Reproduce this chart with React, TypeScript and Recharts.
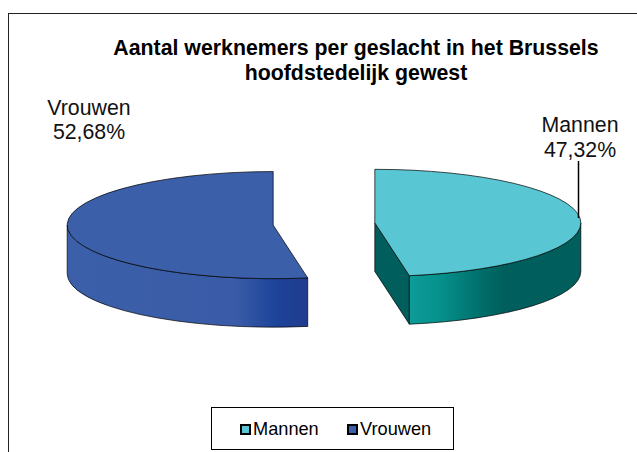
import React from "react";
import { PieChart, Pie, Cell, Legend } from "recharts";

const categories = ["Mannen", "Vrouwen"];
const values = [47.32, 52.68];
const topColors = ["#58c7d3", "#3c5fa9"];
const titleLines = ["Aantal werknemers per geslacht in het Brussels", "hoofdstedelijk gewest"];

const data = categories.map((name, i) => ({ name, value: values[i] }));

const FONT = '"Liberation Sans", Arial, sans-serif';
const SQUASH = 0.26;
const DEPTH = 48.5;
const EXPLODE = 51;
const RAD = Math.PI / 180;

// Point on the squashed circle; recharts angles are counter-clockwise from 3 o'clock.
const pt = (cx: number, cy: number, r: number, a: number) => ({
  x: cx + r * Math.cos(a * RAD),
  y: cy - r * SQUASH * Math.sin(a * RAD),
});

function Slice3D(props: any) {
  const { cx, cy, outerRadius: r, startAngle, endAngle, fill, index } = props;
  const mid = (startAngle + endAngle) / 2;
  const ox = cx + EXPLODE * Math.cos(mid * RAD);
  const oy = cy - EXPLODE * SQUASH * Math.sin(mid * RAD);
  const a = pt(ox, oy, r, startAngle);
  const b = pt(ox, oy, r, endAngle);
  const large = Math.abs(endAngle - startAngle) > 180 ? 1 : 0;
  const ry = r * SQUASH;
  const top = `M${ox},${oy} L${a.x},${a.y} A${r},${ry} 0 ${large} 1 ${b.x},${b.y} Z`;

  let wall = "";
  let face = "";
  if (index === 0) {
    const e = pt(ox, oy, r, 0);
    wall = `M${e.x},${e.y} A${r},${ry} 0 0 1 ${b.x},${b.y} L${b.x},${b.y + DEPTH} A${r},${ry} 0 0 0 ${e.x},${e.y + DEPTH} Z`;
    face = `M${ox},${oy} L${b.x},${b.y} L${b.x},${b.y + DEPTH} L${ox},${oy + DEPTH} Z`;
  } else {
    const e = pt(ox, oy, r, 180);
    wall = `M${a.x},${a.y} A${r},${ry} 0 0 1 ${e.x},${e.y} L${e.x},${e.y + DEPTH} A${r},${ry} 0 0 0 ${a.x},${a.y + DEPTH} Z`;
  }
  return (
    <g>
      {face && <path d={face} fill="#005f5c" stroke="#000" strokeWidth={0.7} />}
      <path d={wall} fill={index === 0 ? "url(#wallM)" : "url(#wallV)"} stroke="#000" strokeWidth={0.7} />
      <path d={top} fill={fill} stroke="#000" strokeWidth={0.7} />
    </g>
  );
}

function SliceLabel(props: any) {
  const { index, name, value } = props;
  const text = `${value.toFixed(2).replace(".", ",")}%`;
  const pos = index === 0 ? { x: 580, y: 132, dy: 25 } : { x: 89, y: 115, dy: 24 };
  return (
    <g>
      {index === 0 && <line x1={578.5} y1={161} x2={578.5} y2={218} stroke="#000" strokeWidth={1.5} />}
      <text x={pos.x} y={pos.y} textAnchor="middle" fontFamily={FONT} fontSize={21.3} fill="#111">{name}</text>
      <text x={pos.x} y={pos.y + pos.dy} textAnchor="middle" fontFamily={FONT} fontSize={21.3} fill="#111">{text}</text>
    </g>
  );
}

function LegendBox({ payload }: any) {
  return (
    <div style={{ width: 241, height: 41, border: "1.5px solid #000", display: "flex", alignItems: "center", fontFamily: FONT, fontSize: 18.2, color: "#000", background: "#fff", boxSizing: "content-box" }}>
      {(payload || []).map((p: any, i: number) => (
        <div key={p.value} style={{ display: "flex", alignItems: "center", position: "absolute", left: i === 0 ? 29 : 136, top: 12 }}>
          <span style={{ width: 7, height: 7, border: "2px solid #000", background: p.color, display: "inline-block", marginRight: 2 }} />
          <span>{p.value}</span>
        </div>
      ))}
    </div>
  );
}

export default function App() {
  return (
    <div style={{ position: "absolute", left: 0, top: 0, width: 637, height: 452, overflow: "hidden", background: "#fff" }}>
      <div style={{ position: "absolute", left: 8, top: 13, width: 640, height: 460, borderLeft: "1.5px solid #222", borderTop: "1.5px solid #222" }} />
      <PieChart width={637} height={452} style={{ position: "absolute", left: 0, top: 0 }} margin={{ top: 0, right: 0, bottom: 0, left: 0 }}>
        <defs>
          <linearGradient id="wallM" x1="0" x2="1" y1="0" y2="0">
            <stop offset="0" stopColor="#0e9c98" />
            <stop offset="0.18" stopColor="#05908c" />
            <stop offset="0.45" stopColor="#006a67" />
            <stop offset="0.55" stopColor="#005f5c" />
            <stop offset="1" stopColor="#005f5c" />
          </linearGradient>
          <linearGradient id="wallV" x1="0" x2="1" y1="0" y2="0">
            <stop offset="0" stopColor="#3c5fa9" />
            <stop offset="0.7" stopColor="#3a5ca8" />
            <stop offset="0.87" stopColor="#1c4399" />
            <stop offset="1" stopColor="#213c8f" />
          </linearGradient>
        </defs>
        <text x={356} y={55} textAnchor="middle" fontFamily={FONT} fontWeight="bold" fontSize={21.3} fill="#000">{titleLines[0]}</text>
        <text x={356} y={80} textAnchor="middle" fontFamily={FONT} fontWeight="bold" fontSize={21.3} fill="#000">{titleLines[1]}</text>
        <Pie
          data={data}
          dataKey="value"
          nameKey="name"
          cx={324}
          cy={224}
          outerRadius={206}
          startAngle={90}
          endAngle={-270}
          stroke="#000"
          isAnimationActive={false}
          shape={Slice3D}
          label={SliceLabel}
          labelLine={false}
        >
          {categories.map((c, i) => <Cell key={c} fill={topColors[i]} />)}
        </Pie>
        <Legend content={<LegendBox />} wrapperStyle={{ position: "absolute", left: 211, top: 407, width: 244, height: 44 }} />
      </PieChart>
    </div>
  );
}
